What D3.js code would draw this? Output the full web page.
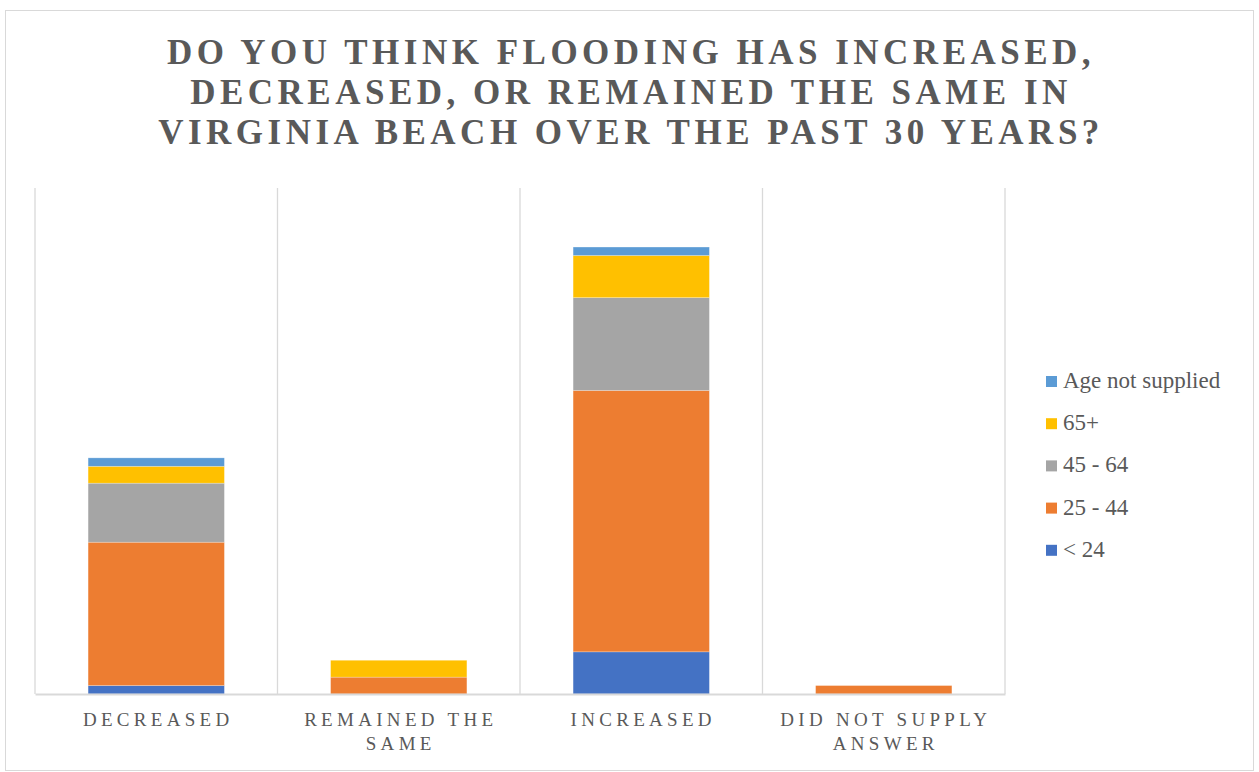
<!DOCTYPE html>
<html><head><meta charset="utf-8">
<script src="https://cdn.jsdelivr.net/npm/d3@7"></script>
<style>body{margin:0;background:#fff}svg{display:block}</style>
</head><body>
<svg id="c" width="1259" height="772"></svg>
<script>
const categories = ["Decreased", "Remained the same", "Increased", "Did not supply answer"];
const categoryLines = [["DECREASED"], ["REMAINED THE", "SAME"], ["INCREASED"], ["DID NOT SUPPLY", "ANSWER"]];
const seriesNames = ["< 24", "25 - 44", "45 - 64", "65+", "Age not supplied"];
const under24 = [1, 0, 5, 0];
const age25to44 = [17, 2, 31, 1];
const age45to64 = [7, 0, 11, 0];
const age65plus = [2, 2, 5, 0];
const ageNotSupplied = [1, 0, 1, 0];
const seriesColors = ["#4472C4", "#ED7D31", "#A5A5A5", "#FFC000", "#5B9BD5"];
const yMax = 60;
const titleLines = ["DO YOU THINK FLOODING HAS INCREASED,", "DECREASED, OR REMAINED THE SAME IN", "VIRGINIA BEACH OVER THE PAST 30 YEARS?"];

const seriesValues = [under24, age25to44, age45to64, age65plus, ageNotSupplied];
const rows = categories.map((c, i) => {
  const r = {cat: c};
  seriesNames.forEach((s, j) => r[s] = seriesValues[j][i]);
  return r;
});
const stacked = d3.stack().keys(seriesNames)(rows);

const svg = d3.select("#c");
const textColor = "#595959";
const serif = "'Liberation Serif','Times New Roman',serif";

svg.append("rect").attr("x", 5.5).attr("y", 10.5).attr("width", 1248).attr("height", 760)
  .attr("fill", "#fff").attr("stroke", "#d9d9d9").attr("stroke-width", 1);

const plot = {left: 35, right: 1005, top: 188, bottom: 694};
const x = d3.scaleBand().domain(categories).range([plot.left, plot.right]).padding(0);
const y = d3.scaleLinear().domain([0, yMax]).range([plot.bottom, plot.top]);
const barFrac = 0.562;

const bounds = categories.map(c => x(c)).concat([plot.right]);
svg.append("g").selectAll("line").data(bounds).join("line")
  .attr("x1", d => d).attr("x2", d => d).attr("y1", plot.top).attr("y2", plot.bottom)
  .attr("stroke", "#d9d9d9").attr("stroke-width", 1.3);

const bw = x.bandwidth() * barFrac;
svg.append("g").selectAll("g").data(stacked).join("g")
  .attr("fill", (d, i) => seriesColors[i])
  .selectAll("rect").data(d => d).join("rect")
  .attr("x", d => x(d.data.cat) + (x.bandwidth() - bw) / 2)
  .attr("y", d => y(d[1]))
  .attr("width", bw)
  .attr("height", d => y(d[0]) - y(d[1]))
  .attr("stroke", "rgba(255,255,255,0.35)").attr("stroke-width", 0.7);

const xAxis = d3.axisBottom(x).tickSize(0).tickFormat("");
const ax = svg.append("g").attr("transform", `translate(0,${plot.bottom})`).call(xAxis);
ax.select(".domain").attr("stroke", "#d9d9d9").attr("stroke-width", 2);

const lab = svg.append("g");
categories.forEach((c, i) => {
  const cx = x(c) + x.bandwidth() / 2;
  categoryLines[i].forEach((ln, k) => {
    lab.append("text").attr("x", cx + 2).attr("y", 726 + k * 24)
      .attr("text-anchor", "middle").attr("font-family", serif).attr("font-size", 19)
      .attr("letter-spacing", "4.3px").attr("fill", textColor).text(ln);
  });
});

titleLines.forEach((t, i) => {
  svg.append("text").attr("x", 629 + 2).attr("y", 64 + i * 40)
    .attr("text-anchor", "middle").attr("font-family", serif).attr("font-weight", "bold")
    .attr("font-size", 35).attr("letter-spacing", "4.5px").attr("fill", textColor).text(t);
});

const legendOrder = seriesNames.map((s, i) => i).reverse();
const lg = svg.append("g");
legendOrder.forEach((si, k) => {
  const cy = 381.5 + k * 42.2;
  lg.append("rect").attr("x", 1046).attr("y", cy - 5.5).attr("width", 11).attr("height", 11)
    .attr("fill", seriesColors[si]);
  lg.append("text").attr("x", 1063).attr("y", cy + 6.5).attr("font-family", serif)
    .attr("font-size", 23).attr("fill", textColor).text(seriesNames[si]);
});
</script>
</body></html>
